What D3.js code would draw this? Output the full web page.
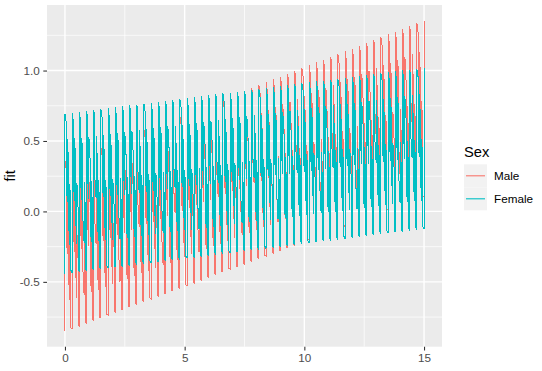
<!DOCTYPE html>
<html>
<head>
<meta charset="utf-8">
<script src="https://cdn.jsdelivr.net/npm/d3@7"></script>
<style>
body { margin: 0; background: #fff; }
text { font-family: "Liberation Sans", Arial, sans-serif; }
</style>
</head>
<body>
<svg width="542" height="371"></svg>
<script>
// start of each cluster of fitted values along x
var clusterX = [0, 0.3, 0.6, 0.9, 1.2, 1.5, 1.8, 2.1, 2.4, 2.7, 3.0, 3.3, 3.6, 3.9, 4.2, 4.5, 4.8,
	5.1, 5.4, 5.7, 6.0, 6.3, 6.6, 6.9, 7.2, 7.5, 7.8, 8.1, 8.4, 8.7, 9.0, 9.3, 9.6, 9.9, 10.2,
	10.5, 10.8, 11.1, 11.4, 11.7, 12.0, 12.3, 12.6, 12.9, 13.2, 13.5, 13.8, 14.1, 14.4, 14.7, 15.0];

// highest / lowest fit reached in each cluster
var maleTop = [0.360, 0.380, 0.400, 0.420, 0.440, 0.460, 0.479, 0.499, 0.519, 0.539, 0.559, 0.579,
	0.599, 0.619, 0.639, 0.659, 0.678, 0.698, 0.718, 0.738, 0.758, 0.778, 0.798, 0.818, 0.838,
	0.858, 0.877, 0.897, 0.917, 0.937, 0.957, 0.977, 0.997, 1.017, 1.037, 1.057, 1.076, 1.096,
	1.116, 1.136, 1.156, 1.176, 1.196, 1.216, 1.236, 1.256, 1.275, 1.295, 1.315, 1.335, 1.355];
var maleBottom = [-0.850, -0.831, -0.812, -0.793, -0.774, -0.755, -0.736, -0.716, -0.697, -0.678,
	-0.659, -0.640, -0.621, -0.602, -0.583, -0.564, -0.545, -0.526, -0.507, -0.487, -0.468, -0.449,
	-0.430, -0.411, -0.392, -0.373, -0.354, -0.335, -0.316, -0.297, -0.278, -0.258, -0.239, -0.220,
	-0.201, -0.182, -0.163, -0.144, -0.125, -0.106, -0.087, -0.068, -0.049, -0.030, -0.011, 0.008,
	0.027, 0.047, 0.066, 0.085, 0.104];
var femaleTop = [0.693, 0.700, 0.706, 0.713, 0.719, 0.726, 0.732, 0.739, 0.745, 0.752, 0.758, 0.765,
	0.771, 0.778, 0.785, 0.791, 0.798, 0.804, 0.811, 0.817, 0.824, 0.830, 0.837, 0.843, 0.850,
	0.857, 0.863, 0.870, 0.876, 0.883, 0.889, 0.896, 0.902, 0.909, 0.915, 0.922, 0.928, 0.935,
	0.942, 0.948, 0.955, 0.961, 0.968, 0.974, 0.981, 0.987, 0.994, 1.000, 1.007, 1.013, 1.020];
var femaleBottom = [-0.442, -0.436, -0.429, -0.423, -0.416, -0.410, -0.404, -0.397, -0.391, -0.384,
	-0.378, -0.372, -0.365, -0.359, -0.353, -0.346, -0.340, -0.333, -0.327, -0.321, -0.314, -0.308,
	-0.301, -0.295, -0.289, -0.282, -0.276, -0.269, -0.263, -0.257, -0.250, -0.244, -0.237, -0.231,
	-0.225, -0.218, -0.212, -0.206, -0.199, -0.193, -0.186, -0.180, -0.174, -0.167, -0.161, -0.154,
	-0.148, -0.142, -0.135, -0.129, -0.122];

// inside a cluster: x offset of each row and where it sits between bottom (0) and top (1)
var stepOffset = [0, 0, 0.05, 0.05, 0.10, 0.10, 0.15, 0.15, 0.20, 0.20, 0.25, 0.25];
var stepLevel = [0.00, 1.00, 0.95, 0.58, 0.45, 0.84, 0.70, 0.33, 0.18, 0.56, 0.40, 0.02];

var sexes = ["Male", "Female"];
var colors = ["#F8766D", "#00BFC4"];
var xTicks = [0, 5, 10, 15];
var yTicks = [-0.5, 0, 0.5, 1.0];
var yTickLabels = ["-0.5", "0.0", "0.5", "1.0"];

//helper: turn cluster envelopes into the (x, fit) rows of one group
function buildRows(top, bottom) {
	var rows = [];
	for (var k = 0; k < clusterX.length; k++) {
		for (var j = 0; j < stepOffset.length; j++) {
			var xv = clusterX[k] + stepOffset[j];
			if (xv > 15.0001) continue;
			rows.push({x: xv, fit: bottom[k] + stepLevel[j] * (top[k] - bottom[k])});
		}
	}
	return rows;
}

var groups = [
	{sex: "Male", color: colors[0], rows: buildRows(maleTop, maleBottom)},
	{sex: "Female", color: colors[1], rows: buildRows(femaleTop, femaleBottom)}
];

var panel = {left: 47, right: 442, top: 5, bottom: 346.7};
var svg = d3.select('svg');

// ggplot style 5% expansion
function expand(ext) {
	var pad = (ext[1] - ext[0]) * 0.05;
	return [ext[0] - pad, ext[1] + pad];
}
var allRows = groups[0].rows.concat(groups[1].rows);
var x = d3.scaleLinear().domain(expand(d3.extent(allRows, function(d) {return d.x}))).range([panel.left, panel.right]);
var y = d3.scaleLinear().domain(expand(d3.extent(allRows, function(d) {return d.fit}))).range([panel.bottom, panel.top]);

svg.append('rect')
	.attr('x', panel.left).attr('y', panel.top)
	.attr('width', panel.right - panel.left).attr('height', panel.bottom - panel.top)
	.attr('fill', '#EBEBEB');

// minor grid
var xMinor = [2.5, 7.5, 12.5];
var yMinor = [-0.75, -0.25, 0.25, 0.75, 1.25];
svg.append('g').selectAll('line').data(xMinor).enter().append('line')
	.attr('x1', x).attr('x2', x).attr('y1', panel.top).attr('y2', panel.bottom)
	.attr('stroke', '#fff').attr('stroke-width', 0.7);
svg.append('g').selectAll('line').data(yMinor).enter().append('line')
	.attr('y1', y).attr('y2', y).attr('x1', panel.left).attr('x2', panel.right)
	.attr('stroke', '#fff').attr('stroke-width', 0.7);
// major grid
svg.append('g').selectAll('line').data(xTicks).enter().append('line')
	.attr('x1', x).attr('x2', x).attr('y1', panel.top).attr('y2', panel.bottom)
	.attr('stroke', '#fff').attr('stroke-width', 1.4);
svg.append('g').selectAll('line').data(yTicks).enter().append('line')
	.attr('y1', y).attr('y2', y).attr('x1', panel.left).attr('x2', panel.right)
	.attr('stroke', '#fff').attr('stroke-width', 1.4);

// lines
var line = d3.line().x(function(d) {return x(d.x)}).y(function(d) {return y(d.fit)});
svg.append('g').selectAll('path').data(groups).enter().append('path')
	.attr('d', function(g) {return line(g.rows)})
	.attr('fill', 'none')
	.attr('stroke', function(g) {return g.color})
	.attr('stroke-width', 1)
	.attr('shape-rendering', 'crispEdges');

// axes
var xAxis = d3.axisBottom(x).tickValues(xTicks).tickSize(3.7).tickPadding(3).tickFormat(d3.format('d'));
var gx = svg.append('g').attr('transform', 'translate(0,' + panel.bottom + ')').call(xAxis);
var yAxis = d3.axisLeft(y).tickValues(yTicks).tickSize(3.7).tickPadding(3.5)
	.tickFormat(function(d, i) {return yTickLabels[i]});
var gy = svg.append('g').attr('transform', 'translate(' + panel.left + ',0)').call(yAxis);
[gx, gy].forEach(function(g) {
	g.select('.domain').remove();
	g.selectAll('.tick line').attr('stroke', '#333333').attr('stroke-width', 1.07);
	g.selectAll('.tick text').attr('fill', '#4D4D4D').style('font-size', '11.7px')
		.style('font-family', '"Liberation Sans", Arial, sans-serif');
});

svg.append('text')
	.attr('transform', 'translate(15,' + ((panel.top + panel.bottom) / 2) + ') rotate(-90)')
	.attr('text-anchor', 'middle').style('font-size', '14.7px').attr('fill', '#000')
	.text('fit');

// legend
var legend = svg.append('g').attr('transform', 'translate(464,0)');
legend.append('text').attr('x', 0).attr('y', 157).style('font-size', '14.7px').text('Sex');
var keys = legend.selectAll('g.key').data(sexes).enter().append('g').attr('class', 'key')
	.attr('transform', function(d, i) {return 'translate(0,' + (164.3 + i * 23) + ')'});
keys.append('rect').attr('width', 23).attr('height', 23).attr('fill', '#F2F2F2');
keys.append('line').attr('x1', 2).attr('x2', 21).attr('y1', 11.5).attr('y2', 11.5)
	.attr('stroke', function(d, i) {return colors[i]}).attr('stroke-width', 1.1);
keys.append('text').attr('x', 30).attr('y', 15.7).style('font-size', '11.7px').attr('fill', '#000')
	.text(function(d) {return d});
</script>
</body>
</html>
